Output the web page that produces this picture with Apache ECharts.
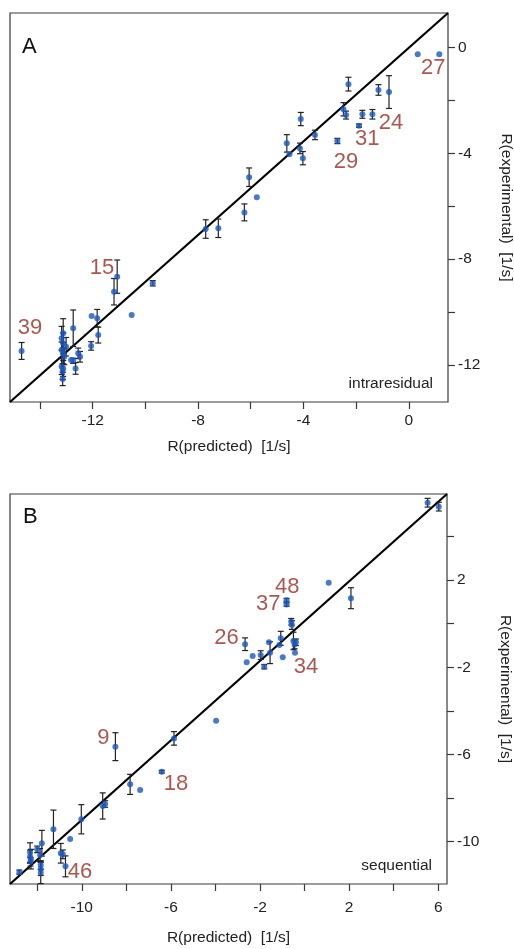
<!DOCTYPE html>
<html>
<head>
<meta charset="utf-8">
<script src="https://cdn.jsdelivr.net/npm/echarts@6/dist/echarts.min.js"></script>
<style>
html, body { margin: 0; padding: 0; background: #fff; }
#chart { width: 514px; height: 949px; }
</style>
</head>
<body>
<div id="chart"></div>
<script>
// panel A - intraresidual
const aPred = [0.34, 1.16, -2.29, -1.15, -0.75, -2.48, -2.38, -1.76, -1.38, -1.89, -2.71,
  -4.10, -3.56, -4.63, -4.13, -4.53, -4.02, -6.06, -5.77, -6.24, -7.71, -7.23,
  -11.07, -11.19, -9.72, -10.52, -12.04, -11.83, -11.79, -12.06, -12.74, -14.70,
  -13.12, -13.18, -13.12, -13.01, -13.18, -13.12, -13.08, -13.18, -13.12, -13.14, -13.14,
  -12.82, -12.74, -12.55, -12.48, -12.65];
const aExp = [-0.25, -0.25, -1.38, -1.60, -1.68, -2.33, -2.55, -2.52, -2.52, -2.95, -3.53,
  -2.70, -3.30, -3.62, -3.81, -4.03, -4.18, -4.90, -5.66, -6.23, -6.86, -6.83,
  -8.66, -9.23, -8.91, -10.11, -10.15, -10.23, -10.87, -11.28, -10.61, -11.47,
  -10.80, -10.99, -11.18, -11.31, -11.43, -11.56, -11.69, -12.06, -12.13, -12.25, -12.53,
  -11.81, -11.84, -11.56, -11.69, -12.13];
const aErr = [0, 0, 0.26, 0.20, 0.62, 0.25, 0.15, 0.15, 0.18, 0.06, 0.10,
  0.25, 0.18, 0.33, 0.20, 0, 0.25, 0.35, 0, 0.32, 0.35, 0.35,
  0.63, 0.50, 0.10, 0, 0, 0.33, 0.30, 0.16, 0.69, 0.32,
  0.55, 0.45, 0.40, 0.35, 0.30, 0.40, 0.30, 0.30, 0.30, 0.30, 0.25,
  0, 0.10, 0.20, 0.20, 0.22];
const aLabels = ['27', '24', '31', '29', '15', '39'];
const aLabelAt = [[0.93, -0.77], [-0.67, -2.85], [-1.58, -3.45], [-2.38, -4.32], [-11.65, -8.33], [-14.38, -10.60]];

// panel B - sequential
const bPred = [5.52, 6.02, 1.08, 2.08, -0.81, -0.81, -0.60, -0.57, -1.07, -1.13, -1.60,
  -0.50, -0.39, -0.45, -0.43, -1.55, -0.98, -1.97, -2.33, -2.67, -2.60, -1.81,
  -3.97, -5.86, -8.49, -6.41, -7.83, -7.38, -9.06, -8.95, -10.02, -11.27, -10.52,
  -11.79, -10.94, -10.85, -10.73, -12.00, -12.32, -12.32, -12.28, -12.30,
  -11.87, -11.84, -11.84, -11.84, -12.80];
const bExp = [5.55, 5.37, 1.88, 1.17, 1.08, 0.88, 0.09, -0.06, -0.67, -0.98, -0.85,
  -0.79, -0.85, -0.95, -1.33, -1.33, -1.54, -1.44, -1.48, -0.94, -1.77, -1.97,
  -4.45, -5.26, -5.64, -6.79, -7.37, -7.63, -8.36, -8.27, -8.97, -9.43, -9.88,
  -10.07, -10.53, -10.58, -11.13, -10.35, -10.50, -10.69, -10.80, -10.92,
  -10.61, -11.07, -11.25, -11.42, -11.40];
const bErr = [0.2, 0.2, 0, 0.48, 0.08, 0.08, 0.15, 0.2, 0.32, 0, 0,
  0.4, 0.15, 0.2, 0, 0.5, 0, 0.2, 0, 0.29, 0, 0.1,
  0, 0.31, 0.64, 0.06, 0.46, 0, 0.6, 0.15, 0.67, 0.88, 0,
  0.59, 0.45, 0.2, 0.48, 0.15, 0.45, 0.3, 0.45, 0.2,
  0.3, 0.2, 0.3, 0.5, 0.1];
const bLabels = ['48', '37', '26', '34', '9', '18', '46'];
const bLabelAt = [[-0.78, 1.67], [-1.63, 0.90], [-3.50, -0.64], [0.06, -1.97], [-9.03, -5.26], [-5.77, -7.37], [-10.08, -11.38]];

// axis ranges and ticks
const aXRange = [-15.14, 1.49], aYRange = [-13.40, 1.31];
const bXRange = [-13.22, 6.39], bYRange = [-11.94, 5.95];
const aXTicks = [-14, -12, -10, -8, -6, -4, -2, 0], aXTickLabels = [-12, -8, -4, 0];
const aYTicks = [0, -2, -4, -6, -8, -10, -12], aYTickLabels = [0, -4, -8, -12];
const bXTicks = [-12, -10, -8, -6, -4, -2, 0, 2, 4, 6], bXTickLabels = [-10, -6, -2, 2, 6];
const bYTicks = [4, 2, 0, -2, -4, -6, -8, -10], bYTickLabels = [2, -2, -6, -10];

const FONT = 'Liberation Sans, Arial, sans-serif';
const AXIS_COLOR = '#3a3a3a';
const DOT = '#1a58c4';
const RED = '#9a2b22';

function xAxisOf(grid, range, ticks, labels, margin, gap) {
  return {
    gridIndex: grid, type: 'value', min: range[0], max: range[1],
    splitLine: { show: false },
    axisLine: { show: false, onZero: false },
    axisTick: { show: true, customValues: ticks, length: 7, lineStyle: { color: AXIS_COLOR, width: 1.2 } },
    axisLabel: { customValues: labels, margin: margin, fontSize: 15.5, color: '#222', fontFamily: FONT },
    name: 'R(predicted)  [1/s]', nameLocation: 'middle', nameGap: gap,
    nameTextStyle: { fontSize: 15.5, color: '#222', fontFamily: FONT }
  };
}
function yAxisOf(grid, range, ticks, labels) {
  return {
    gridIndex: grid, type: 'value', position: 'right', min: range[0], max: range[1],
    splitLine: { show: false },
    axisLine: { show: false, onZero: false },
    axisTick: { show: true, customValues: ticks, length: 7, lineStyle: { color: AXIS_COLOR, width: 1.2 } },
    axisLabel: { customValues: labels, margin: 10, fontSize: 15.5, color: '#222', fontFamily: FONT },
    name: 'R(experimental)  [1/s]', nameLocation: 'middle', nameGap: 50, nameRotate: -90,
    nameTextStyle: { fontSize: 15.5, color: '#222', fontFamily: FONT }
  };
}

function pointsSeries(idx, xs, ys) {
  return {
    type: 'scatter', xAxisIndex: idx, yAxisIndex: idx, z: 4,
    symbol: 'circle', symbolSize: 6, itemStyle: { color: DOT },
    data: xs.map((x, i) => [x, ys[i]])
  };
}
function errSeries(idx, xs, ys, es) {
  return {
    type: 'custom', xAxisIndex: idx, yAxisIndex: idx, z: 3,
    data: xs.map((x, i) => [x, ys[i], es[i]]),
    renderItem: function (params, api) {
      const e = api.value(2);
      if (!e) return null;
      const top = api.coord([api.value(0), api.value(1) + e]);
      const bot = api.coord([api.value(0), api.value(1) - e]);
      const w = 3;
      const st = { stroke: '#222', lineWidth: 1.2 };
      return {
        type: 'group',
        children: [
          { type: 'line', shape: { x1: top[0], y1: top[1], x2: bot[0], y2: bot[1] }, style: st },
          { type: 'line', shape: { x1: top[0] - w, y1: top[1], x2: top[0] + w, y2: top[1] }, style: st },
          { type: 'line', shape: { x1: bot[0] - w, y1: bot[1], x2: bot[0] + w, y2: bot[1] }, style: st }
        ]
      };
    }
  };
}
function diagSeries(idx, xr, yr) {
  return {
    type: 'line', xAxisIndex: idx, yAxisIndex: idx, z: 2, symbol: 'none', silent: true,
    lineStyle: { color: '#000', width: 2.2 },
    data: [[xr[0], yr[0]], [xr[1], yr[1]]]
  };
}
function labelSeries(idx, names, at) {
  return {
    type: 'scatter', xAxisIndex: idx, yAxisIndex: idx, z: 5, symbolSize: 0,
    data: names.map((n, i) => ({ name: n, value: at[i] })),
    label: {
      show: true, position: [0, 0], align: 'center', verticalAlign: 'middle',
      formatter: p => p.name, fontSize: 22, color: RED, fontFamily: FONT
    }
  };
}

const chart = echarts.init(document.getElementById('chart'), null, { renderer: 'canvas' });
chart.setOption({
  backgroundColor: '#fff',
  animation: false,
  title: [
    { text: 'A', left: 22, top: 36, padding: 0, textStyle: { fontSize: 22, fontWeight: 'normal', color: '#111', fontFamily: FONT } },
    { text: 'B', left: 23, top: 506, padding: 0, textStyle: { fontSize: 22, fontWeight: 'normal', color: '#111', fontFamily: FONT } },
    { text: 'intraresidual', right: 81, top: 376, padding: 0, textStyle: { fontSize: 15.5, fontWeight: 'normal', color: '#222', fontFamily: FONT } },
    { text: 'sequential', right: 82, top: 858, padding: 0, textStyle: { fontSize: 15.5, fontWeight: 'normal', color: '#222', fontFamily: FONT } }
  ],
  grid: [
    { left: 10, top: 13, width: 438, height: 389, outerBoundsMode: 'none', containLabel: false, show: true, borderColor: AXIS_COLOR, borderWidth: 1.2, backgroundColor: 'transparent' },
    { left: 10, top: 494, width: 437, height: 390, outerBoundsMode: 'none', containLabel: false, show: true, borderColor: AXIS_COLOR, borderWidth: 1.2, backgroundColor: 'transparent' }
  ],
  xAxis: [
    xAxisOf(0, aXRange, aXTicks, aXTickLabels, 11, 37),
    xAxisOf(1, bXRange, bXTicks, bXTickLabels, 16, 46)
  ],
  yAxis: [
    yAxisOf(0, aYRange, aYTicks, aYTickLabels),
    yAxisOf(1, bYRange, bYTicks, bYTickLabels)
  ],
  series: [
    diagSeries(0, aXRange, aYRange),
    errSeries(0, aPred, aExp, aErr),
    pointsSeries(0, aPred, aExp),
    labelSeries(0, aLabels, aLabelAt),
    diagSeries(1, bXRange, bYRange),
    errSeries(1, bPred, bExp, bErr),
    pointsSeries(1, bPred, bExp),
    labelSeries(1, bLabels, bLabelAt)
  ]
});
</script>
</body>
</html>
